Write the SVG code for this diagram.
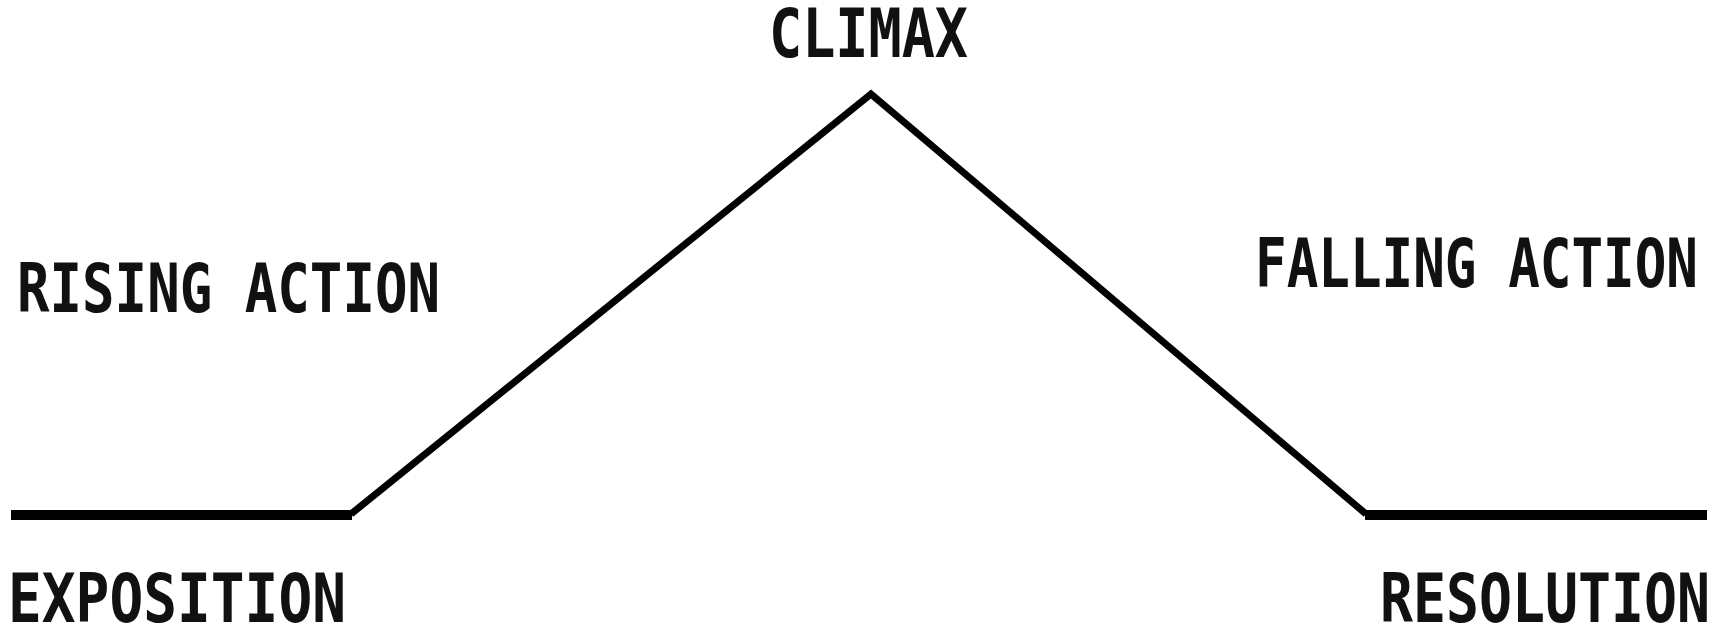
<svg xmlns="http://www.w3.org/2000/svg" width="1711" height="626" viewBox="0 0 1711 626">
<style>
.lbl{font-family:"DejaVu Sans Mono","Liberation Mono",monospace;font-size:54px;font-weight:bold;fill:#111}
.h{stroke:#000;stroke-width:10;fill:none;stroke-linecap:butt}
.d{stroke:#000;stroke-width:7;fill:none;stroke-linejoin:miter}
</style>
<rect width="1711" height="626" fill="#fff"/>
<g id="connectors">
<line class="h" x1="11" y1="515" x2="352" y2="515"/>
<polyline class="d" points="351,514 871,94 1366,514"/>
<line class="h" x1="1365" y1="515" x2="1707" y2="515"/>
</g>
<g id="climax" transform="translate(769,57) scale(1,1.26)"><text class="lbl" x="0" y="0" textLength="199" lengthAdjust="spacingAndGlyphs">CLIMAX</text></g>
<g id="rising" transform="translate(17,312) scale(1,1.26)"><text class="lbl" x="0" y="0" textLength="423" lengthAdjust="spacingAndGlyphs">RISING ACTION</text></g>
<g id="falling" transform="translate(1255,287) scale(1,1.26)"><text class="lbl" x="0" y="0" textLength="443" lengthAdjust="spacingAndGlyphs">FALLING ACTION</text></g>
<g id="exposition" transform="translate(8,622) scale(1,1.26)"><text class="lbl" x="0" y="0" textLength="338" lengthAdjust="spacingAndGlyphs">EXPOSITION</text></g>
<g id="resolution" transform="translate(1380,622) scale(1,1.26)"><text class="lbl" x="0" y="0" textLength="330" lengthAdjust="spacingAndGlyphs">RESOLUTION</text></g>
</svg>
